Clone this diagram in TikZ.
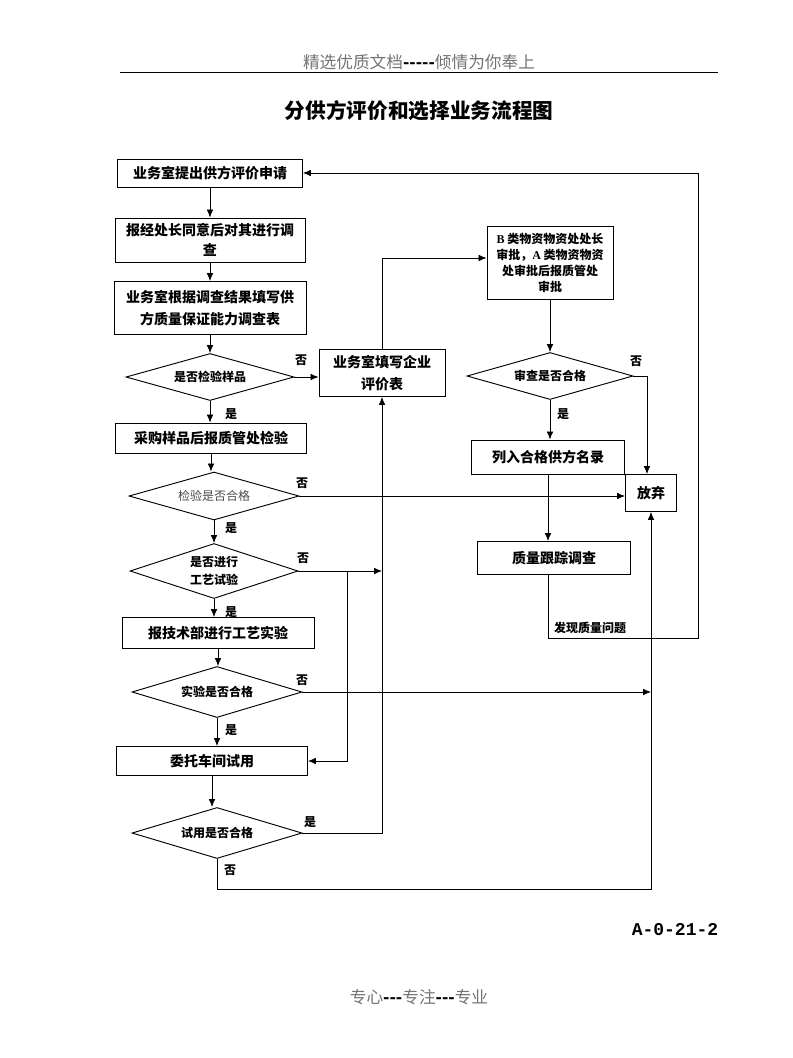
\documentclass[tikz,border=0pt]{standalone}
\usepackage{fontspec}
\setmainfont{Noto Sans CJK SC}[Ligatures=TeXOff]
\newfontfamily\monofont{Liberation Mono}
\newfontfamily\latinserif{Liberation Serif}
\usetikzlibrary{arrows.meta,shapes.geometric}

\tikzset{
  box/.style={draw,line width=0.7pt,rectangle,align=center,inner sep=0pt,
    font=\bfseries\fontsize{10.5}{15}\selectfont},
  choice/.style={draw,line width=0.7pt,diamond,aspect=3,inner sep=0pt,align=center,
    font=\bfseries\fontsize{9}{12}\selectfont},
  arr/.style={-{Latex[length=6pt,width=5pt]},line width=0.6pt},
  tag/.style={inner sep=0pt,font=\bfseries\fontsize{9}{11}\selectfont}
}

\begin{document}
\begin{tikzpicture}[x=0.75pt,y=-0.75pt]
\useasboundingbox (0,0) rectangle (793,1058);

% header and title
\node (head) at (419,62) [text=black!55,font=\fontsize{12.5}{14}\selectfont] {精选优质文档\textcolor{black}{\bfseries -----}倾情为你奉上};
\draw[line width=0.7pt] (120,72) -- (718,72);
\node (title) at (419,111) [font=\bfseries\fontsize{15.5}{18}\selectfont] {分供方评价和选择业务流程图};

% left column
\node (req) at (210,173) [box,minimum width=138.75pt,minimum height=21pt] {业务室提出供方评价申请};
\node (approve) at (210,240) [box,minimum width=142.5pt,minimum height=33pt] {报经处长同意后对其进行调\\查};
\node (survey) at (210,308) [box,minimum width=144pt,minimum height=39.75pt,font=\bfseries\fontsize{10.5}{17}\selectfont] {业务室根据调查结果填写供\\方质量保证能力调查表};
\node (sample) at (210,377) [choice,minimum width=126pt,minimum height=35.25pt] {是否检验样品};
\node (inspect) at (211,438) [box,minimum width=143.25pt,minimum height=22.5pt] {采购样品后报质管处检验};
\node (inspok) at (214,496) [choice,minimum width=127.5pt,minimum height=36pt,font=\fontsize{9}{12}\selectfont,text=black!70] {检验是否合格};
\node (trial) at (214,571) [choice,minimum width=126pt,minimum height=41.25pt,font=\bfseries\fontsize{9}{14}\selectfont] {是否进行\\工艺试验};
\node (techtest) at (218,633) [box,minimum width=144pt,minimum height=23.25pt] {报技术部进行工艺实验};
\node (testok) at (217,692) [choice,minimum width=127.5pt,minimum height=38.25pt] {实验是否合格};
\node (workshop) at (212,761) [box,minimum width=143.25pt,minimum height=21.75pt] {委托车间试用};
\node (useok) at (217,833) [choice,minimum width=127.5pt,minimum height=38.25pt] {试用是否合格};

% middle and right column
\node (evalform) at (382,373) [box,minimum width=94.5pt,minimum height=35.25pt,font=\bfseries\fontsize{10.5}{16}\selectfont] {业务室填写企业\\评价表};
\node (approvebox) at (550,263) [box,minimum width=94.5pt,minimum height=54.75pt,font=\bfseries\fontsize{9}{12}\selectfont] {{\latinserif B} 类物资物资处处长\\审批，{\latinserif A} 类物资物资\\处审批后报质管处\\审批};
\node (reviewok) at (550,376) [choice,minimum width=124.5pt,minimum height=35.25pt] {审查是否合格};
\node (qualified) at (548,457) [box,minimum width=114.75pt,minimum height=25.5pt] {列入合格供方名录};
\node (abandon) at (651,493) [box,minimum width=38.25pt,minimum height=27.75pt] {放弃};
\node (track) at (554,558) [box,minimum width=114.75pt,minimum height=24.75pt] {质量跟踪调查};

\coordinate (split) at (347,571);
\coordinate (loopback) at (698,638);

% main line
\draw[arr] (req) -- (req.south |- approve.north);
\draw[arr] (approve) -- (approve.south |- survey.north);
\draw[arr] (survey.south) -- (survey.south |- sample.north);
\draw[arr] (sample.south) -- (sample.south |- inspect.north);
\draw[arr] (inspect.south) -- (inspect.south |- inspok.north);
\draw[arr] (inspok.south) -- (inspok.south |- trial.north);
\draw[arr] (trial.south) -- (trial.south |- techtest.north);
\draw[arr] (techtest.south) -- (techtest.south |- testok.north);
\draw[arr] (testok.south) -- (testok.south |- workshop.north);
\draw[arr] (workshop.south) -- (workshop.south |- useok.north);

% branches
\draw[arr] (sample.east) -- (sample.east -| evalform.west);
\draw[arr] (inspok.east) -- (inspok.east -| abandon.west);
\draw[arr] (trial.east) -- (trial.east -| evalform.south);
\draw[arr] (split) |- (workshop.east);
\draw[arr] (testok.east) -- (testok.east -| abandon.south);
\draw[arr] (useok.east) -| (evalform.south);
\draw[arr] (useok.south) -- ++(0,30) -| (abandon.south);
\draw[arr] (evalform.north) |- ([yshift=3.75pt]approvebox.west);
\draw[arr] (approvebox.south) -- (approvebox.south |- reviewok.north);
\draw[arr] (reviewok.east) -| ([xshift=-3pt]abandon.north);
\draw[arr] (reviewok.south) -- (reviewok.south |- qualified.north);
\draw[arr] (qualified.south) -- (qualified.south |- track.north);
\draw[arr] ([xshift=-4.5pt]track.south) |- (loopback) |- (req.east);

% labels
\node (n1) at (301,360) [tag] {否};
\node (y1) at (231,414) [tag] {是};
\node (n2) at (302,483) [tag] {否};
\node (y2) at (231,528) [tag] {是};
\node (n3) at (303,558) [tag] {否};
\node (y3) at (231,612) [tag] {是};
\node (n4) at (302,680) [tag] {否};
\node (y4) at (231,730) [tag] {是};
\node (y5) at (310,822) [tag] {是};
\node (n5) at (230,870) [tag] {否};
\node (n6) at (636,361) [tag] {否};
\node (y6) at (563,414) [tag] {是};
\node (found) at (590,628) [tag] {发现质量问题};

% page number and footer
\node (code) at (675,930) [font=\monofont\bfseries\fontsize{13.5}{15}\selectfont] {A-0-21-2};
\node (foot) at (419,997) [text=black!55,font=\fontsize{12.5}{14}\selectfont] {专心\textcolor{black}{\bfseries ---}专注\textcolor{black}{\bfseries ---}专业};

\end{tikzpicture}
\end{document}
